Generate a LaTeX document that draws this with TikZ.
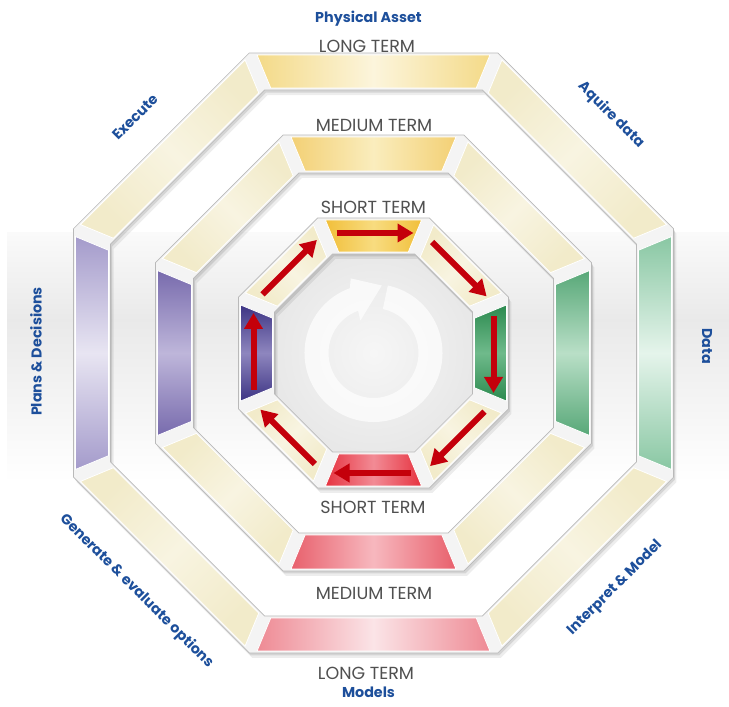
\documentclass[tikz,border=0pt]{standalone}
\usepackage{fontspec}
\setmainfont{Poppins}
\newfontfamily\labelfont{Poppins}
\usetikzlibrary{calc,arrows.meta}

\definecolor{lblblue}{HTML}{1D4F9B}
\definecolor{termgray}{HTML}{505050}
\definecolor{arrred}{HTML}{C4000B}
% gold (top), red (bottom), purple (left), green (right), cream (diagonals)
\definecolor{goldAe}{HTML}{F4DA88}\definecolor{goldAm}{HTML}{FCF5DC}
\definecolor{goldBe}{HTML}{F3D075}\definecolor{goldBm}{HTML}{FAEDBD}
\definecolor{goldCe}{HTML}{F1BF3A}\definecolor{goldCm}{HTML}{F8DC80}
\definecolor{redAe}{HTML}{EE8A94}\definecolor{redAm}{HTML}{FBE4E7}
\definecolor{redBe}{HTML}{E8606C}\definecolor{redBm}{HTML}{F7B8BE}
\definecolor{redCe}{HTML}{E63340}\definecolor{redCm}{HTML}{F28B95}
\definecolor{purAe}{HTML}{A49BCB}\definecolor{purAm}{HTML}{E8E5F2}
\definecolor{purBe}{HTML}{786BAD}\definecolor{purBm}{HTML}{BEB6DA}
\definecolor{purCe}{HTML}{3D3484}\definecolor{purCm}{HTML}{8E86BE}
\definecolor{grnAe}{HTML}{89C7A3}\definecolor{grnAm}{HTML}{E5F4EB}
\definecolor{grnBe}{HTML}{58A878}\definecolor{grnBm}{HTML}{B9DFC7}
\definecolor{grnCe}{HTML}{2C8A4F}\definecolor{grnCm}{HTML}{6FBA8B}
\definecolor{creamE}{HTML}{F2EBCA}\definecolor{creamM}{HTML}{F8F4E1}

% closed regular octagon around centre #1 with apothem #2
\newcommand\oct[2]{($(#1)+(22.5:#2*1.082392)$) -- ($(#1)+(67.5:#2*1.082392)$) -- ($(#1)+(112.5:#2*1.082392)$) -- ($(#1)+(157.5:#2*1.082392)$) -- ($(#1)+(202.5:#2*1.082392)$) -- ($(#1)+(247.5:#2*1.082392)$) -- ($(#1)+(292.5:#2*1.082392)$) -- ($(#1)+(337.5:#2*1.082392)$) -- cycle}

% one segment of a ring: direction #1, outer/inner apothem #2/#3, style #4
\newcommand\ringseg[4]{%
  \pgfmathsetmacro\sego{#2*0.414214-7}%
  \pgfmathsetmacro\segi{#3*0.414214-7}%
  \path[#4] ($(c)+(#1:#2)+(#1+90:\sego)$) -- ($(c)+(#1:#2)+(#1-90:\sego)$)
    -- ($(c)+(#1:#3)+(#1-90:\segi)$) -- ($(c)+(#1:#3)+(#1+90:\segi)$) -- cycle;}

% a whole ring: band apothems #1/#2, colour suffix #3
\newcommand\ring[3]{%
  \fill[black,opacity=0.07,even odd rule] \oct{s2}{#1} \oct{s2}{#2};
  \fill[black,opacity=0.10,even odd rule] \oct{s1}{#1} \oct{s1}{#2};
  \path[band,even odd rule] \oct{c}{#1} \oct{c}{#2};
  \pgfmathsetmacro\ao{#1-2}\pgfmathsetmacro\ai{#2+2}%
  \ringseg{90}{\ao}{\ai}{hseg={gold#3e}{gold#3m}}
  \ringseg{-90}{\ao}{\ai}{hseg={red#3e}{red#3m}}
  \ringseg{180}{\ao}{\ai}{vseg={pur#3e}{pur#3m}}
  \ringseg{0}{\ao}{\ai}{vseg={grn#3e}{grn#3m}}
  \ringseg{45}{\ao}{\ai}{dseg={45}}
  \ringseg{135}{\ao}{\ai}{dseg={-45}}
  \ringseg{-45}{\ao}{\ai}{dseg={-45}}
  \ringseg{-135}{\ao}{\ai}{dseg={45}}}

\tikzset{
  band/.style={fill=gray!9, draw=gray!55, line width=0.7pt},
  segbase/.style={draw=white, line width=0.8pt},
  hseg/.style 2 args={segbase, left color=#1, right color=#1, middle color=#2},
  vseg/.style 2 args={segbase, top color=#1, bottom color=#1, middle color=#2},
  dseg/.style={segbase, top color=creamE, bottom color=creamE, middle color=creamM, shading angle=#1},
  redarr/.style={draw=arrred, line width=6pt, -{Triangle[length=16pt,width=18pt]}},
  grp/.style={font=\labelfont\bfseries\fontsize{14.3}{15}\selectfont, text=lblblue, inner sep=0pt},
  term/.style={font=\labelfont\fontsize{17.5}{18}\selectfont, text=termgray, inner sep=0pt},
}

\begin{document}
\begin{tikzpicture}[x=1pt,y=1pt]
\useasboundingbox (0,0) rectangle (729,707);
\fill[white] (0,0) rectangle (729,707);

% soft grey band behind the middle of the wheel
\shade[top color=gray!4, bottom color=gray!17] (7,474) rectangle (729,387);
\shade[top color=gray!17, bottom color=white] (7,387) rectangle (729,225);

\coordinate (c) at (373.5,354);
\coordinate (s1) at ($(c)+(1.5,-2.5)$);
\coordinate (s2) at ($(c)+(3,-5)$);

% centre field
\shade[inner color=gray!7, outer color=gray!18] \oct{c}{100};

% the three rings: long, medium and short term
\ring{300}{263}{A}
\ring{218}{180}{B}
\ring{135}{99}{C}

% cycle symbol in the centre
\fill[white,opacity=0.7]
  ($(c)+(78:69)$) arc[start angle=78, end angle=-250, radius=69]
  -- ($(c)+(107:78)$) -- ($(c)+(83:68)$) -- ($(c)+(112:35)$)
  -- ($(c)+(110:45)$) arc[start angle=110, end angle=438, radius=45] -- cycle;

% clockwise arrows in the short-term ring
\foreach \p in {90,45,0,-45,-90,-135,180,135}
  \draw[redarr] ($(c)+(\p:120)+(\p+90:37)$) -- ($(c)+(\p:120)+(\p-90:40)$);

% term labels
\node[term] (lt1) at (367,661) {LONG TERM};
\node[term] (mt1) at (374,582) {MEDIUM TERM};
\node[term] (st1) at (373.5,500) {SHORT TERM};
\node[term] (st2) at (373,200) {SHORT TERM};
\node[term] (mt2) at (374,114) {MEDIUM TERM};
\node[term] (lt2) at (366,34) {LONG TERM};

% stage labels around the wheel
\node[grp] (pa) at (368.5,688) {Physical Asset};
\node[grp, rotate=-45] (aq) at (611,592) {Aquire data};
\node[grp, rotate=-90] (da) at (707,361) {Data};
\node[grp, rotate=45] (im) at (615,119) {Interpret \& Model};
\node[grp] (mo) at (368.5,15) {Models};
\node[grp, rotate=-45] (ge) at (136.5,116) {Generate \& evaluate options};
\node[grp, rotate=90] (pd) at (36,355.5) {Plans \& Decisions};
\node[grp, rotate=45] (ex) at (135,590) {Execute};
\end{tikzpicture}
\end{document}
